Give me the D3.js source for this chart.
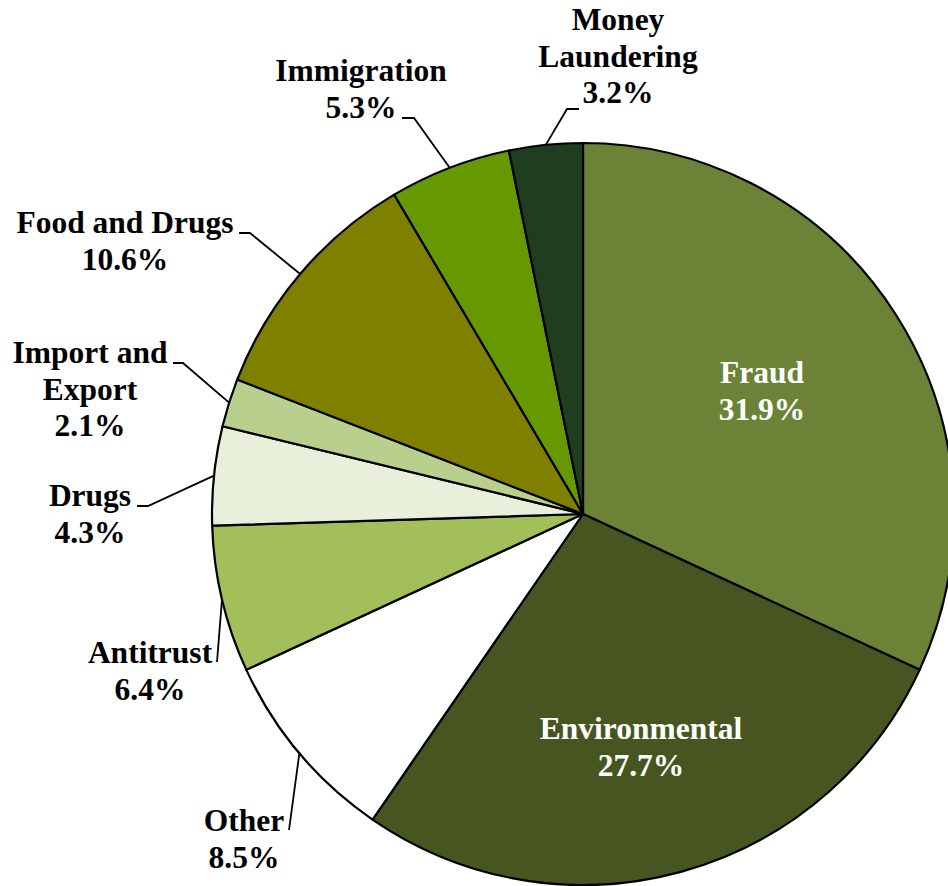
<!DOCTYPE html>
<html>
<head>
<meta charset="utf-8">
<script src="https://cdn.jsdelivr.net/npm/d3@7"></script>
<style>
  html, body { margin: 0; padding: 0; background: #fff; overflow: hidden; }
  #chart svg { display: block; }
  .label { font-family: "Liberation Serif", "Times New Roman", Times, serif; font-weight: bold; }
</style>
</head>
<body>
<div id="chart"></div>
<script>
// Data (clockwise from 12 o'clock)
const categories = ["Fraud", "Environmental", "Other", "Antitrust", "Drugs",
    "Import and Export", "Food and Drugs", "Immigration", "Money Laundering"];
const shares = [31.9, 27.7, 8.5, 6.4, 4.3, 2.1, 10.6, 5.3, 3.2];
const labelLines = [["Fraud"], ["Environmental"], ["Other"], ["Antitrust"], ["Drugs"],
    ["Import and", "Export"], ["Food and Drugs"], ["Immigration"], ["Money", "Laundering"]];
const colors = ["#6B8237", "#475520", "#FFFFFF", "#A3BF59", "#E8F0DC",
    "#B8CF8D", "#7F7F00", "#669900", "#1F3D1F"];

document.addEventListener('DOMContentLoaded', function() {
    const width = 948, height = 886;
    const cx = 583, cy = 514, radius = 371;
    const fontSize = 31.5, lineH = 36.5;

    // label layout relative to pie centre: text centre x / first baseline y,
    // and leader elbow + stub end (inside = label sits in the slice)
    const layout = [
        { tx: 179, ty: -131, inside: true },
        { tx: 58, ty: 225, inside: true },
        { tx: -339, ty: 317, elbow: [-294, 316], stub: [-294, 316] },
        { tx: -433, ty: 149, elbow: [-366, 148], stub: [-366, 148] },
        { tx: -493, ty: -8, elbow: [-435, -8], stub: [-446, -8] },
        { tx: -493, ty: -151, elbow: [-400, -151], stub: [-410, -151] },
        { tx: -458, ty: -281, elbow: [-333, -281], stub: [-344, -281] },
        { tx: -222, ty: -433, elbow: [-169, -396], stub: [-181, -396] },
        { tx: 35, ty: -484, elbow: [-16, -405], stub: [-4, -405] }
    ];

    const svg = d3.select("#chart").append("svg")
        .attr("width", width)
        .attr("height", height);

    const g = svg.append("g").attr("transform", `translate(${cx},${cy})`);

    const data = categories.map((c, i) => ({ name: c, value: shares[i], lines: labelLines[i], color: colors[i], lay: layout[i] }));

    const pie = d3.pie().sort(null).value(d => d.value);
    const arc = d3.arc().innerRadius(0).outerRadius(radius);
    const arcs = pie(data);

    g.selectAll("path.slice")
        .data(arcs)
        .enter().append("path")
        .attr("class", "slice")
        .attr("d", arc)
        .attr("fill", d => d.data.color)
        .attr("stroke", "#000")
        .attr("stroke-width", 2.2)
        .attr("stroke-linejoin", "round");

    // leader lines: from slice mid-angle on the rim to the label
    const leaders = arcs.filter(d => !d.data.lay.inside);
    g.selectAll("path.leader")
        .data(leaders)
        .enter().append("path")
        .attr("class", "leader")
        .attr("fill", "none")
        .attr("stroke", "#000")
        .attr("stroke-width", 1.8)
        .attr("d", d => {
            const a = (d.startAngle + d.endAngle) / 2;
            const p = [radius * Math.sin(a), -radius * Math.cos(a)];
            const e = d.data.lay.elbow, s = d.data.lay.stub;
            return d3.line()([p, e, s]);
        });

    const labels = g.selectAll("text.label")
        .data(arcs)
        .enter().append("text")
        .attr("class", "label")
        .attr("text-anchor", "middle")
        .style("font-size", fontSize + "px")
        .attr("fill", d => d.data.lay.inside ? "#fff" : "#000");

    labels.each(function(d) {
        const t = d3.select(this);
        const rows = d.data.lines.concat([d.data.value.toFixed(1) + "%"]);
        rows.forEach((r, i) => {
            t.append("tspan")
                .attr("x", d.data.lay.tx)
                .attr("y", d.data.lay.ty + i * lineH)
                .text(r);
        });
    });
});
</script>
</body>
</html>
